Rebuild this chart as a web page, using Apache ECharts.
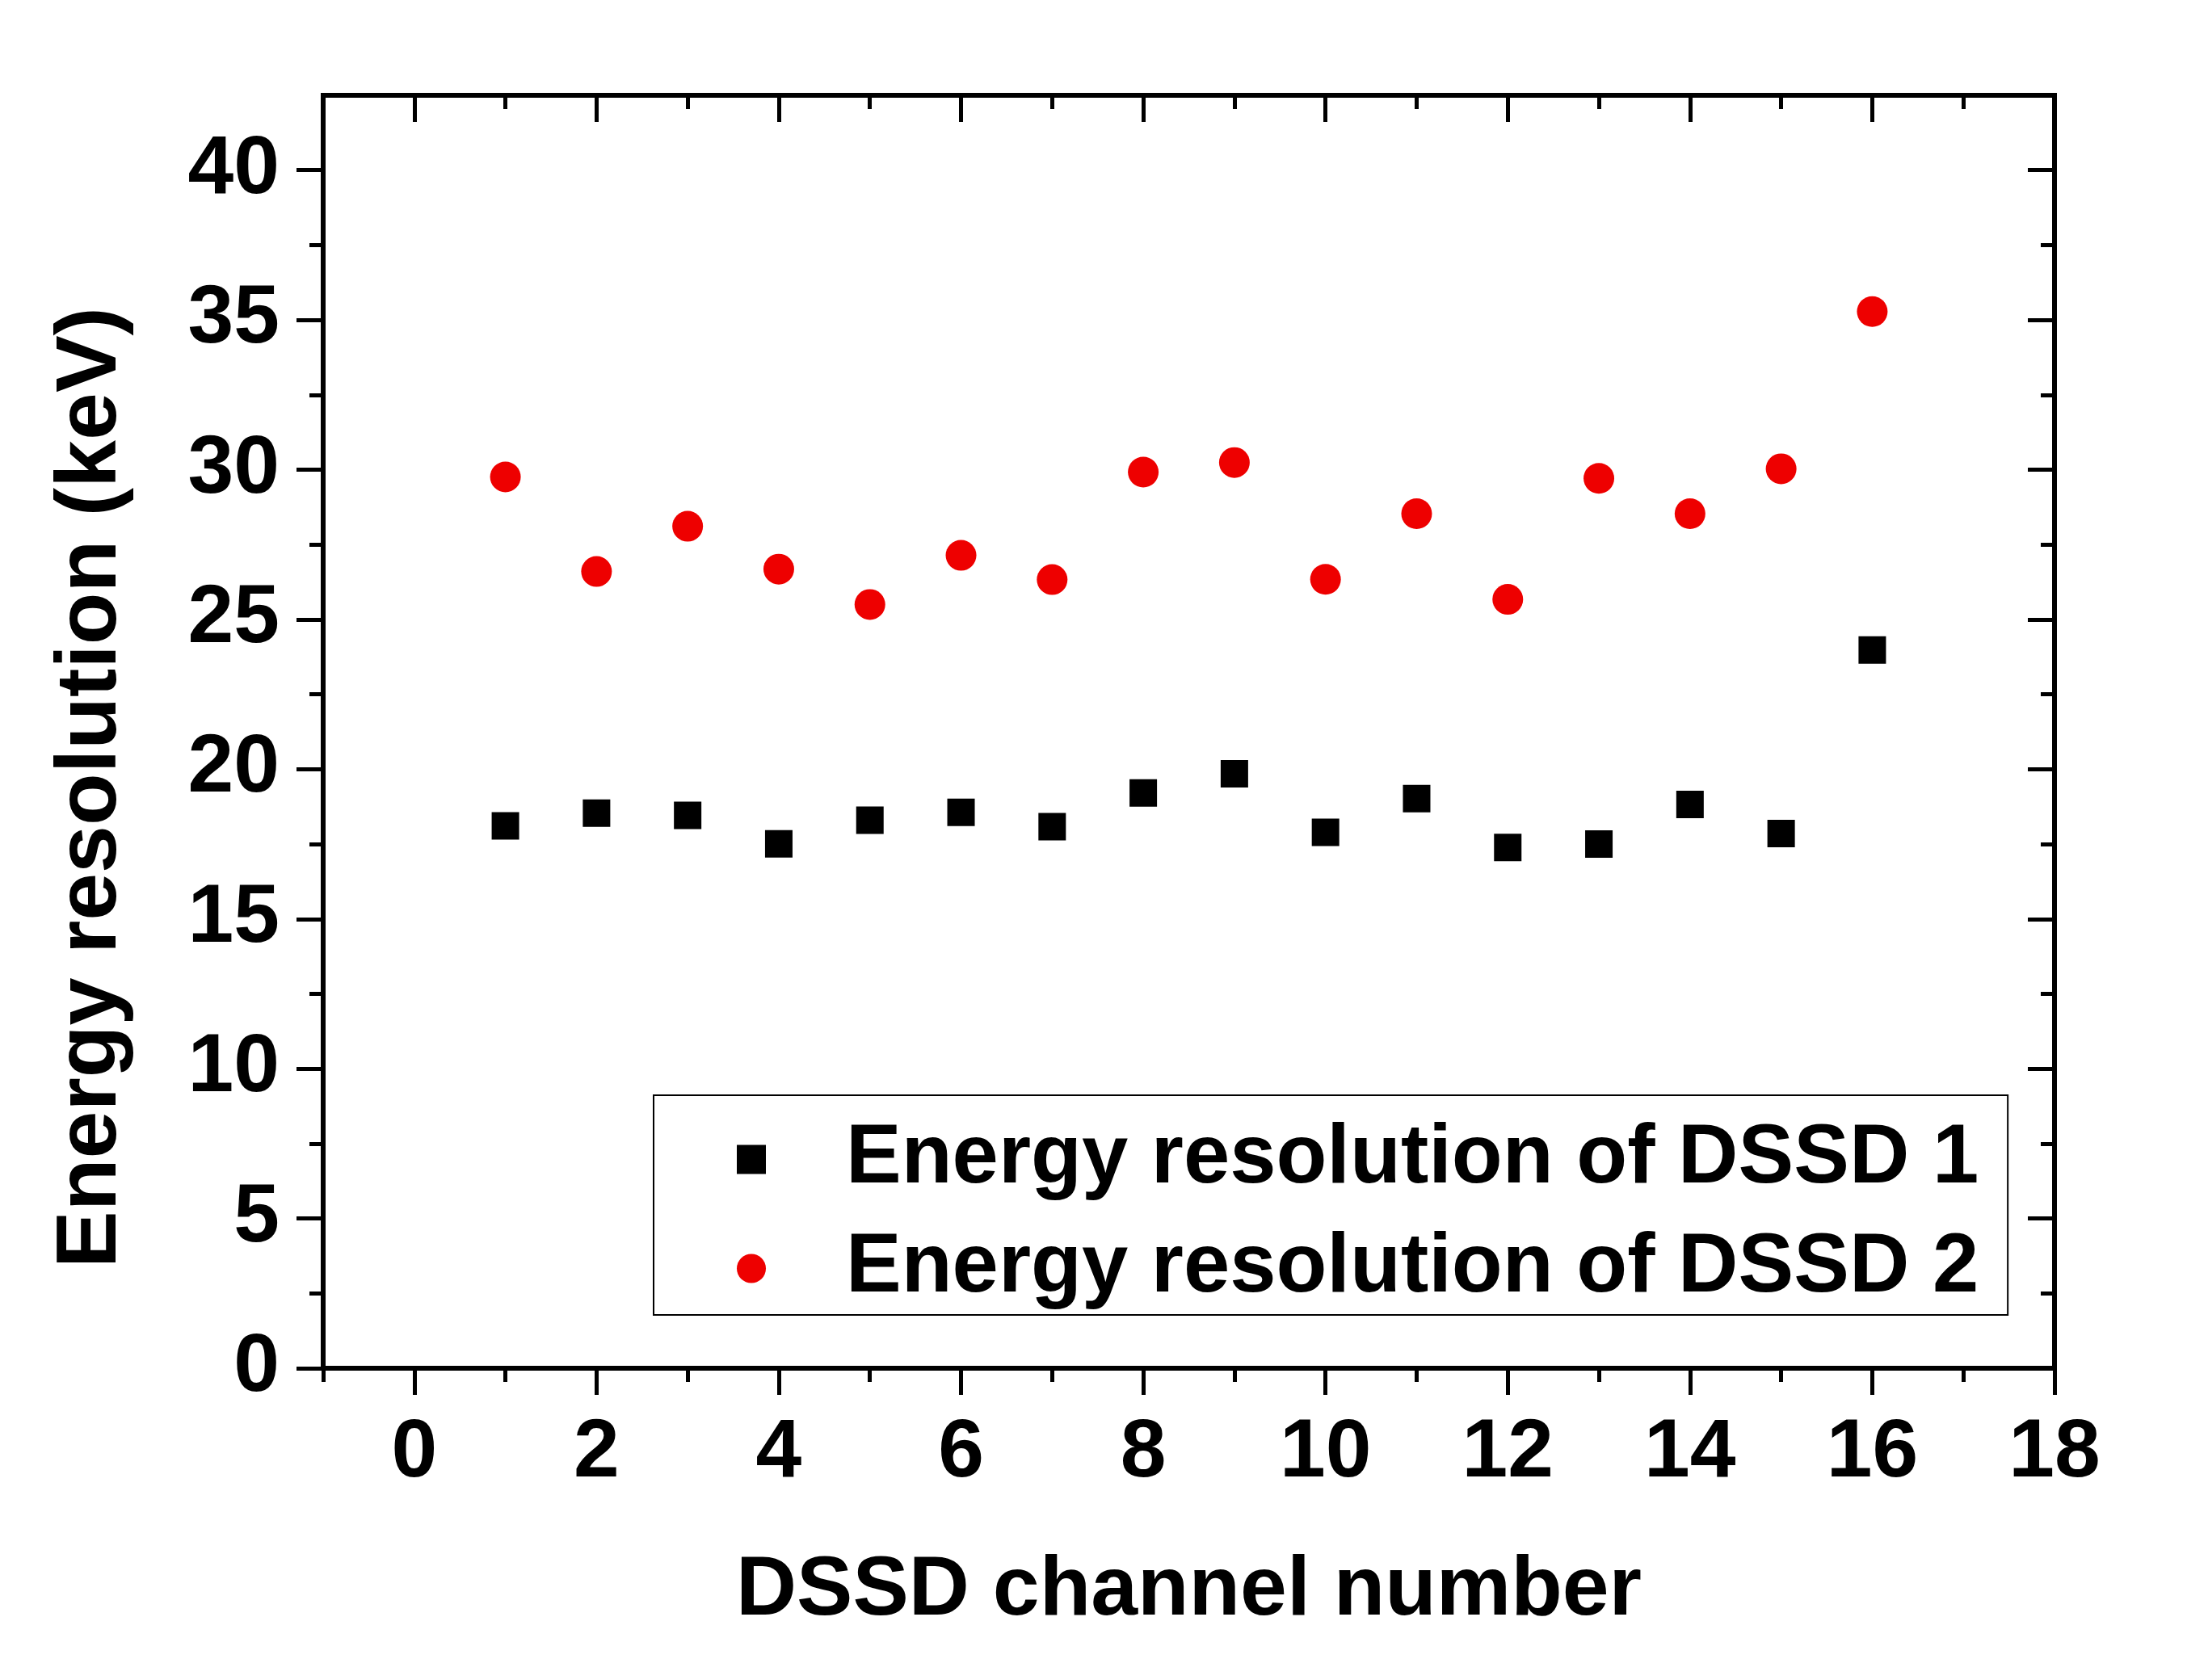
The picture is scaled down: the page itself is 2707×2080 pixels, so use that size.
<!DOCTYPE html>
<html>
<head>
<meta charset="utf-8">
<script src="https://cdn.jsdelivr.net/npm/echarts@6/dist/echarts.min.js"></script>
<style>
html,body{margin:0;padding:0;background:#ffffff;}
#chart{width:2707px;height:2080px;}
</style>
</head>
<body>
<div id="chart"></div>
<script>
// ---- data ----
const channels = [1, 2, 3, 4, 5, 6, 7, 8, 9, 10, 11, 12, 13, 14, 15, 16];
const dssd1 = [18.11, 18.53, 18.46, 17.51, 18.30, 18.56, 18.08, 19.21, 19.85, 17.89, 19.02, 17.39, 17.50, 18.82, 17.85, 23.98];
const dssd2 = [29.76, 26.60, 28.11, 26.68, 25.50, 27.14, 26.33, 29.92, 30.24, 26.34, 28.53, 25.67, 29.71, 28.53, 30.03, 35.28];
const seriesNames = ['Energy resolution of DSSD 1', 'Energy resolution of DSSD 2'];
const xMajorTicks = [0, 2, 4, 6, 8, 10, 12, 14, 16, 18];
const xMinorTicks = [-1, 1, 3, 5, 7, 9, 11, 13, 15, 17];
const yMajorTicks = [0, 5, 10, 15, 20, 25, 30, 35, 40];
const yMinorTicks = [2.5, 7.5, 12.5, 17.5, 22.5, 27.5, 32.5, 37.5];
const xTitle = 'DSSD channel number';
const yTitle = 'Energy resolution (keV)';

// ---- styling ----
const FONT = '"Liberation Sans", Arial, Helvetica, sans-serif';
const X_MIN = -1, X_MAX = 18, Y_MIN = 0, Y_MAX = 42.5;
const MAJOR_LEN = 33, MINOR_LEN = 17;

function axisBase(kind, position, ticks, len, inside, showLine) {
  return {
    type: 'value',
    position: position,
    min: kind === 'x' ? X_MIN : Y_MIN,
    max: kind === 'x' ? X_MAX : Y_MAX,
    axisLine: { show: showLine, onZero: false, lineStyle: { color: '#000', width: 6, cap: 'square' } },
    axisTick: { show: true, customValues: ticks, length: len, inside: inside, lineStyle: { color: '#000', width: 5 } },
    axisLabel: { show: false },
    splitLine: { show: false },
    minorTick: { show: false },
    minorSplitLine: { show: false }
  };
}

const xAxes = [
  Object.assign(axisBase('x', 'bottom', xMajorTicks, MAJOR_LEN, false, true), {
    axisLabel: { show: true, customValues: xMajorTicks, margin: 55, fontSize: 102, fontWeight: 'bold', fontFamily: FONT, color: '#000' },
    name: xTitle, nameLocation: 'middle', nameGap: 224,
    nameTextStyle: { fontSize: 104, fontWeight: 'bold', fontFamily: FONT, color: '#000' }
  }),
  axisBase('x', 'bottom', xMinorTicks, MINOR_LEN, false, false),
  axisBase('x', 'top', xMajorTicks, MAJOR_LEN, true, true),
  axisBase('x', 'top', xMinorTicks, MINOR_LEN, true, false)
];

const yAxes = [
  Object.assign(axisBase('y', 'left', yMajorTicks, MAJOR_LEN, false, true), {
    axisLabel: { show: true, customValues: yMajorTicks, margin: 54, fontSize: 102, fontWeight: 'bold', fontFamily: FONT, color: '#000' },
    name: yTitle, nameLocation: 'middle', nameGap: 233, nameRotate: 90,
    nameTextStyle: { fontSize: 106, fontWeight: 'bold', fontFamily: FONT, color: '#000', padding: [0, 138, 0, 0] }
  }),
  axisBase('y', 'left', yMinorTicks, MINOR_LEN, false, false),
  axisBase('y', 'right', yMajorTicks, MAJOR_LEN, true, true),
  axisBase('y', 'right', yMinorTicks, MINOR_LEN, true, false)
];

const chart = echarts.init(document.getElementById('chart'), null, { renderer: 'canvas' });
chart.setOption({
  animation: false,
  backgroundColor: '#ffffff',
  grid: { left: 400, right: 164, top: 118, bottom: 386, containLabel: false },
  xAxis: xAxes,
  yAxis: yAxes,
  legend: {
    orient: 'vertical',
    left: 809,
    top: 1356,
    padding: [28, 36, 6, 103],
    itemGap: 32,
    itemWidth: 36,
    itemHeight: 36,
    borderColor: '#000',
    borderWidth: 2,
    backgroundColor: '#fff',
    selectedMode: false,
    textStyle: { fontSize: 103, fontWeight: 'bold', fontFamily: FONT, color: '#000', lineHeight: 100, padding: [0, 0, 0, 94] },
    data: [
      { name: seriesNames[0], icon: 'rect' },
      { name: seriesNames[1], icon: 'circle' }
    ]
  },
  series: [
    {
      name: seriesNames[0],
      type: 'scatter',
      xAxisIndex: 0, yAxisIndex: 0,
      symbol: 'rect',
      symbolSize: 34,
      itemStyle: { color: '#000000', opacity: 1 },
      emphasis: { disabled: true },
      data: channels.map((c, i) => [c, dssd1[i]])
    },
    {
      name: seriesNames[1],
      type: 'scatter',
      xAxisIndex: 0, yAxisIndex: 0,
      symbol: 'circle',
      symbolSize: 38,
      itemStyle: { color: '#ee0000', opacity: 1 },
      emphasis: { disabled: true },
      data: channels.map((c, i) => [c, dssd2[i]])
    }
  ]
});
</script>
</body>
</html>
